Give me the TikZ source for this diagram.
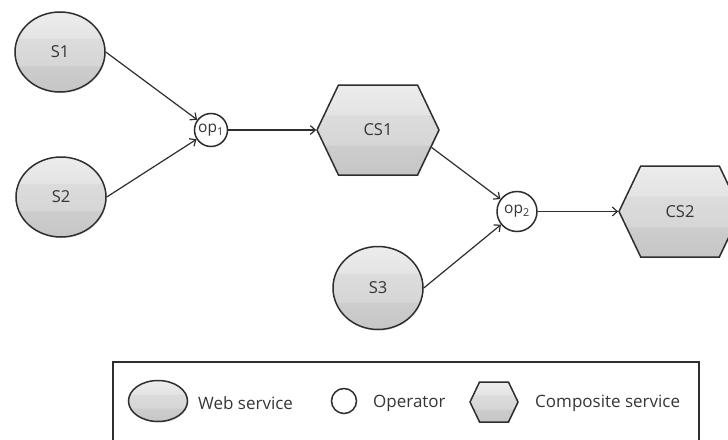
\documentclass[tikz,border=0pt]{standalone}
\usepackage{fontspec}
\setmainfont{Open Sans}
\usetikzlibrary{arrows.meta,shapes.geometric,shapes.symbols,shadows}

\definecolor{bandtopA}{HTML}{ECECEC}
\definecolor{bandtopB}{HTML}{E4E4E4}
\definecolor{bandmidA}{HTML}{DCDCDC}
\definecolor{bandmidB}{HTML}{D6D6D6}
\definecolor{bandlowA}{HTML}{CDCDCD}
\definecolor{bandlowB}{HTML}{C6C6C6}
\definecolor{edgegray}{HTML}{2E2E2E}
\definecolor{textgray}{HTML}{363636}

% three horizontal bands, bottom to top (path box maps to 25bp..75bp)
\pgfdeclareverticalshading{svcbands}{100bp}{%
  color(0bp)=(bandlowB); color(25bp)=(bandlowB); color(41.5bp)=(bandlowA);
  color(41.5bp)=(bandmidB); color(58.5bp)=(bandmidA);
  color(58.5bp)=(bandtopB); color(75bp)=(bandtopA); color(100bp)=(bandtopA)}

\tikzset{
  shapeline/.style={draw=edgegray, line width=1.5pt},
  service/.style={shapeline, ellipse, shading=svcbands,
    drop shadow={opacity=0.18, shadow xshift=0.8pt, shadow yshift=-1.2pt},
    inner sep=0pt, text=textgray, font=\fontsize{16.5}{20}\selectfont},
  composite/.style={shapeline, signal, signal to=east and west,
    signal pointer angle=129, shading=svcbands,
    drop shadow={opacity=0.18, shadow xshift=0.8pt, shadow yshift=-1.2pt},
    inner sep=0pt, text=textgray, font=\fontsize{16.5}{20}\selectfont},
  operator/.style={shapeline, circle, fill=white, inner sep=0pt,
    text=textgray, font=\fontsize{15.5}{18}\selectfont},
  flow/.style={draw=edgegray, line width=1.2pt,
    -{Straight Barb[length=5pt,width=9pt,line width=1.2pt]}},
  legendtext/.style={anchor=west, inner sep=0pt, text=textgray,
    font=\fontsize{17}{20}\selectfont}
}

\begin{document}
\begin{tikzpicture}[x=1pt,y=-1pt]
\useasboundingbox (0,0) rectangle (728,439);
\clip (0,0) rectangle (728,439);
\fill[white] (0,0) rectangle (728,439);

% web services
\node[service, minimum width=90pt, minimum height=80pt] (S1) at (60,52) {S1};
\node[service, minimum width=90pt, minimum height=80pt] (S2) at (61,197) {S2};
\node[service, minimum width=90pt, minimum height=83pt] (S3) at (378,288) {S3};

% operators
\node[operator, minimum size=33pt] (op1) at (211,130) {op\textsubscript{1}};
\node[operator, minimum size=40pt] (op2) at (517,211.5) {op\textsubscript{2}};

% composite services
\node[composite, minimum width=122pt, minimum height=90pt] (CS1) at (378,130) {CS1};
\node[composite, minimum width=122pt, minimum height=91pt] (CS2) at (680,211.5) {CS2};

% composition flow
\draw[flow] (S1.east) -- (op1);
\draw[flow] (S2.east) -- (op1);
\draw[flow] (op1.east) -- (CS1.west);
\draw[flow] (CS1.-18) -- (op2);
\draw[flow] (S3.east) -- (op2);
\draw[flow] (op2.east) -- (CS2.west);

% legend
\draw[draw=edgegray, line width=1.4pt] (113,362) rectangle (699,470);
\node[service, minimum width=59pt, minimum height=41pt] (lgS) at (158,401) {};
\node[legendtext] (lgStext) at (198,403) {Web service};
\node[operator, minimum size=25pt] (lgOp) at (344,401) {};
\node[legendtext] (lgOptext) at (373,403) {Operator};
\node[composite, minimum width=48pt, minimum height=40pt] (lgCS) at (494,402) {};
\node[legendtext] (lgCStext) at (535,403) {Composite service};
\end{tikzpicture}
\end{document}
